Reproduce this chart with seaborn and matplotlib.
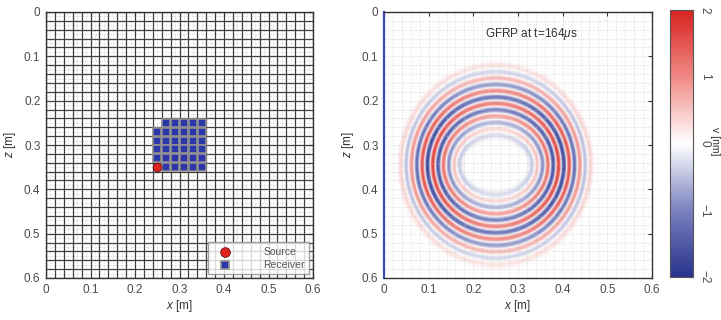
import numpy as np
import pandas as pd
import matplotlib
matplotlib.use("Agg")
import matplotlib.pyplot as plt
from matplotlib.colors import LinearSegmentedColormap
from matplotlib.ticker import MultipleLocator, FuncFormatter
import seaborn as sns

# ---------------- data ----------------
tick_values = [0, 0.1, 0.2, 0.3, 0.4, 0.5, 0.6]
cbar_ticks = [-2, -1, 0, 1, 2]

source_x = [0.25]
source_z = [0.35]

receiver_x = [0.27, 0.29, 0.31, 0.33, 0.35,
              0.25, 0.27, 0.29, 0.31, 0.33, 0.35,
              0.25, 0.27, 0.29, 0.31, 0.33, 0.35,
              0.25, 0.27, 0.29, 0.31, 0.33, 0.35,
              0.25, 0.27, 0.29, 0.31, 0.33, 0.35,
              0.27, 0.29, 0.31, 0.33, 0.35]
receiver_z = [0.25] * 5 + [0.27] * 6 + [0.29] * 6 + [0.31] * 6 + [0.33] * 6 + [0.35] * 5

# wavefield rings (inner -> outer): inner ellipse, outer ellipse, signed amplitude
wave_center = (0.25, 0.345)
inner_axes = (0.082, 0.068)   # horizontal, vertical semi-axes of innermost ring
outer_axes = (0.212, 0.224)   # horizontal, vertical semi-axes of outermost ring
ring_amp = [-0.35, 0.45, -0.80, 1.10, -1.40, 1.50, -1.55, 1.35, -1.10, 0.80, -0.45, 0.30]
side_gain = 0.6               # rings are darker towards left/right cusps

title_text = r"GFRP at t=164$\mu$s"

# ---------------- style ----------------
sns.set_theme(style="white")
plt.rcParams["font.family"] = ["Liberation Sans", "DejaVu Sans"]
plt.rcParams["mathtext.fontset"] = "custom"
plt.rcParams["mathtext.rm"] = "Liberation Sans"
plt.rcParams["mathtext.it"] = "Liberation Sans:italic"
plt.rcParams["axes.edgecolor"] = "#333333"

tick_col = "#4a4a4a"
fs = 8.5

fig = plt.figure(figsize=(7.21, 3.20), dpi=100)
axL = fig.add_axes([46 / 721, 42 / 320, 267 / 721, 266 / 320])
axR = fig.add_axes([384 / 721, 42 / 320, 268 / 721, 266 / 320])
cax = fig.add_axes([670 / 721, 43 / 320, 23 / 721, 267 / 320])

fmt = FuncFormatter(lambda v, p: "0" if abs(v) < 1e-9 else f"{v:.1f}")

def style_axes(ax):
    ax.set_xlim(0, 0.6)
    ax.set_ylim(0.6, 0)
    ax.set_xticks(tick_values)
    ax.set_yticks(tick_values)
    ax.xaxis.set_major_formatter(fmt)
    ax.yaxis.set_major_formatter(fmt)
    ax.tick_params(direction="in", length=3, width=0.8, colors="#333333",
                   labelcolor=tick_col, labelsize=fs, top=True, right=True, pad=4)
    for s in ax.spines.values():
        s.set_linewidth(1.0)
        s.set_color("#333333")
    ax.set_xlabel(r"$x$ [m]", fontsize=fs, color="#333333", labelpad=2)
    ax.set_ylabel(r"$z$ [m]", fontsize=fs, color="#333333", labelpad=4)

# ---------------- left panel: mesh + transducers ----------------
fine = np.arange(0.01, 0.6, 0.02)
for v in fine:
    axL.axvline(v, color="#c8c8c8", lw=0.5, ls=":", zorder=0)
    axL.axhline(v, color="#c8c8c8", lw=0.5, ls=":", zorder=0)
axL.xaxis.set_minor_locator(MultipleLocator(0.02))
axL.yaxis.set_minor_locator(MultipleLocator(0.02))
axL.grid(True, which="both", color="#404040", lw=0.9, ls="-", zorder=1)
axL.set_axisbelow(True)
axL.tick_params(which="minor", length=0)

df_rec = pd.DataFrame({"x": receiver_x, "z": receiver_z})
df_src = pd.DataFrame({"x": source_x, "z": source_z})
sns.scatterplot(data=df_src, x="x", y="z", ax=axL, marker="o", s=40,
                color="#e0241e", edgecolor="#6a1010", linewidth=0.6,
                label="Source", zorder=5)
sns.scatterplot(data=df_rec, x="x", y="z", ax=axL, marker="s", s=30,
                color="#2b36a8", edgecolor="#909090", linewidth=1.2,
                label="Receiver", zorder=4)
style_axes(axL)
leg = axL.legend(loc="lower right", fontsize=7.5, frameon=True, fancybox=False,
                 borderaxespad=0.35, handletextpad=2.6, borderpad=0.45,
                 labelspacing=0.25, handlelength=2.2, markerscale=1.1)
leg.get_frame().set_edgecolor("#8c8c8c")
leg.get_frame().set_linewidth(1.0)
for t in leg.get_texts():
    t.set_color("#555555")

# ---------------- right panel: wavefield ----------------
n = 601
xs = np.linspace(0, 0.6, n)
zs = np.linspace(0, 0.6, n)
X, Z = np.meshgrid(xs, zs)
dx = X - wave_center[0]
dz = Z - wave_center[1]

a0, b0 = inner_axes
a1, b1 = outer_axes
lo = np.full(X.shape, -0.25)
hi = np.full(X.shape, 1.30)

def f(s):
    a = a0 + (a1 - a0) * s
    b = b0 + (b1 - b0) * s
    return (dx / a) ** 2 + (dz / b) ** 2 - 1.0

for _ in range(40):
    mid = 0.5 * (lo + hi)
    pos = f(mid) > 0
    lo = np.where(pos, mid, lo)
    hi = np.where(pos, hi, mid)
S = 0.5 * (lo + hi)

nr = len(ring_amp)
ds = 1.0 / (nr - 1)
field = np.zeros_like(S)
for i, amp in enumerate(ring_amp):
    si = i * ds
    field += amp * np.exp(-((S - si) / (0.55 * ds)) ** 2)
theta = np.arctan2(dz, dx)
field *= (1.0 + side_gain * np.cos(theta) ** 2) / (1.0 + 0.5 * side_gain)

cmap = LinearSegmentedColormap.from_list(
    "bwr_matlab", ["#28328c", "#7a82c0", "#ffffff", "#f08a86", "#d8221f"])
im = axR.imshow(field, extent=(0, 0.6, 0.6, 0), origin="upper", cmap=cmap,
                vmin=-2, vmax=2, interpolation="bilinear", aspect="auto", zorder=0)

axR.xaxis.set_minor_locator(MultipleLocator(0.02))
axR.yaxis.set_minor_locator(MultipleLocator(0.02))
axR.grid(True, which="both", color="#b8b8b8", lw=0.5, ls=":", alpha=0.7, zorder=2)
axR.tick_params(which="minor", length=0)
style_axes(axR)
axR.spines["left"].set_color("#3a48b0")
axR.spines["left"].set_linewidth(1.6)
axR.text(0.33, 0.05, title_text, fontsize=fs, color="#333333",
         ha="center", va="center", zorder=6)

cb = fig.colorbar(im, cax=cax, ticks=cbar_ticks)
cb.outline.set_edgecolor("#555555")
cb.outline.set_linewidth(0.8)
cax.tick_params(direction="in", length=3, width=0.8, colors="#333333",
                labelcolor=tick_col, labelsize=fs, pad=4)
for lab in cax.get_yticklabels():
    lab.set_rotation(-90)
    lab.set_va("center")
fig.text(715.5 / 721, 0.56, "v [nm]", rotation=-90,
         fontsize=7.5, color="#333333", ha="center", va="center")

fig.savefig("out.png", dpi=100)
